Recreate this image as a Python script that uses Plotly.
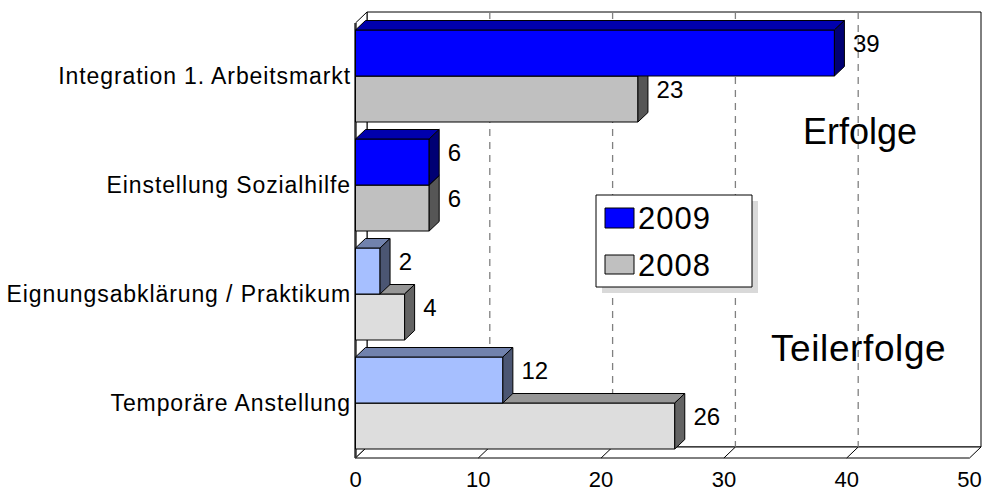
import plotly.graph_objects as go

# ---------------- data ----------------
categories = ["Integration 1. Arbeitsmarkt", "Einstellung Sozialhilfe",
              "Eignungsabklärung / Praktikum", "Temporäre Anstellung"]
values_2009 = [39, 6, 2, 12]
values_2008 = [23, 6, 4, 26]
colors_2009 = ["#0000FF", "#0000FF", "#A6BFFF", "#A6BFFF"]
colors_2008 = ["#C0C0C0", "#C0C0C0", "#DDDDDD", "#DDDDDD"]
x_tick_values = [0, 10, 20, 30, 40, 50]
series_names = ["2009", "2008"]
group_labels = ["Erfolge", "Teilerfolge"]

# ---------------- geometry (styling) ----------------
W, H = 986, 492
PL, PR, PT, PB = 352, 986, 0, 462    # plot area in window pixels
X0PX, PX_PER_V = 355.5, 12.28        # pixel of value 0, pixels per value unit
K0PX, PX_PER_K = 76.0, 109.0         # pixel of first category centre, pixels per category
X_MAX = x_tick_values[-1]

BAR_H = 46 / PX_PER_K
DXB, DYB = 10 / PX_PER_V, 9.5 / PX_PER_K      # bar depth
DXW, DYW = 11.5 / PX_PER_V, 11 / PX_PER_K     # wall depth
K_TOP = (23 - K0PX) / PX_PER_K
K_FLOOR = (458 - K0PX) / PX_PER_K

x_range = [(PL - X0PX) / PX_PER_V, (PR - X0PX) / PX_PER_V]
y_range = [(PB - K0PX) / PX_PER_K, (PT - K0PX) / PX_PER_K]

FONT = "Liberation Sans, Arial, sans-serif"


def spaced(t, ls):
    return '<span style="letter-spacing:%spx">%s</span>' % (ls, t)


def shade(hexcol, f):
    h = hexcol.lstrip("#")
    r, g, b = (int(h[i:i + 2], 16) for i in (0, 2, 4))
    return "rgb(%d,%d,%d)" % (round(r * f), round(g * f), round(b * f))


def px_x(p):
    return (p - PL) / (PR - PL)


def px_y(p):
    return 1 - (p - PT) / (PB - PT)


fig = go.Figure()


def poly(xs, ys, fill, line="black", width=1, z=0, dash=None, closed=True):
    if closed:
        xs = list(xs) + [xs[0]]
        ys = list(ys) + [ys[0]]
    fig.add_trace(go.Scatter(
        x=xs, y=ys, mode="lines",
        fill="toself" if fill else None, fillcolor=fill,
        line=dict(color=line, width=width, dash=dash),
        hoverinfo="skip", showlegend=False, zorder=z))


# ---------------- walls ----------------
kt_b, kf_b = K_TOP - DYW, K_FLOOR - DYW
poly([DXW, X_MAX + DXW, X_MAX + DXW, DXW], [kt_b, kt_b, kf_b, kf_b], "white", z=-2)
poly([0, DXW, DXW, 0], [K_TOP, kt_b, kf_b, K_FLOOR], "white", z=-2)
poly([0, X_MAX, X_MAX + DXW, DXW], [K_FLOOR, K_FLOOR, kf_b, kf_b], "white", z=-2)
poly([0, 0], [K_TOP, K_FLOOR], None, line="#333333", width=2.5, z=-1, closed=False)
for v in x_tick_values[1:-1]:
    poly([v + DXW, v + DXW], [kt_b, kf_b], None, line="#808080", width=1.3,
         z=-1, dash="7px,6px", closed=False)
    poly([v, v + DXW], [K_FLOOR, kf_b], None, line="black", width=1, z=-1, closed=False)

# ---------------- bars ----------------
series = [
    (series_names[1], values_2008, colors_2008, +0.5, 0),
    (series_names[0], values_2009, colors_2009, -0.5, 1),
]
for name, vals, cols, off, z in series:
    yc = [k + off * BAR_H for k in range(len(categories))]
    fig.add_trace(go.Bar(
        x=vals, y=yc, orientation="h", width=BAR_H, base=0, name=name,
        marker=dict(color=cols, line=dict(color="black", width=1)),
        showlegend=False, zorder=z, hovertext=categories))
    for v, c, ycen in zip(vals, cols, yc):
        yt, yb = ycen - BAR_H / 2, ycen + BAR_H / 2
        poly([0, v, v + DXB, DXB], [yt, yt, yt - DYB, yt - DYB], shade(c, 0.68), z=z)
        poly([v, v, v + DXB, v + DXB], [yt, yb, yb - DYB, yt - DYB], shade(c, 0.45), z=z)
    fig.add_trace(go.Scatter(
        x=[v + DXB + 0.7 for v in vals], y=[y - DYB * 0.75 for y in yc],
        mode="text", text=[str(v) for v in vals], textposition="middle right",
        textfont=dict(family=FONT, size=24, color="black"),
        hoverinfo="skip", showlegend=False, cliponaxis=False, zorder=3))

# ---------------- group labels ----------------
fig.add_annotation(x=(860 - X0PX) / PX_PER_V, y=(131 - K0PX) / PX_PER_K,
                   text=group_labels[0], showarrow=False,
                   font=dict(family=FONT, size=36, color="black"))
fig.add_annotation(x=(858 - X0PX) / PX_PER_V, y=(348 - K0PX) / PX_PER_K,
                   text=spaced(group_labels[1], 0.6), showarrow=False,
                   font=dict(family=FONT, size=37, color="black"))

# ---------------- legend (manual) ----------------
shapes = [
    dict(type="rect", xref="paper", yref="paper", x0=px_x(602), x1=px_x(758),
         y0=px_y(201), y1=px_y(293), fillcolor="#D9D9D9", line=dict(width=0)),
    dict(type="rect", xref="paper", yref="paper", x0=px_x(596), x1=px_x(752),
         y0=px_y(195), y1=px_y(287), fillcolor="white", line=dict(color="black", width=1)),
    dict(type="rect", xref="paper", yref="paper", x0=px_x(605), x1=px_x(634),
         y0=px_y(208), y1=px_y(228), fillcolor=colors_2009[0], line=dict(color="black", width=1)),
    dict(type="rect", xref="paper", yref="paper", x0=px_x(605), x1=px_x(634),
         y0=px_y(255), y1=px_y(274), fillcolor=colors_2008[0], line=dict(color="black", width=1)),
]
for name, ypx in ((series_names[0], 218), (series_names[1], 265)):
    fig.add_annotation(xref="paper", yref="paper", x=px_x(636), y=px_y(ypx),
                       xanchor="left", yanchor="middle", text=spaced(name, 1), showarrow=False,
                       font=dict(family=FONT, size=31, color="black"))

fig.update_layout(
    width=W, height=H,
    margin=dict(l=PL, r=W - PR, t=PT, b=H - PB, pad=0, autoexpand=False),
    paper_bgcolor="white", plot_bgcolor="white",
    shapes=shapes, barmode="overlay", showlegend=False,
    xaxis=dict(range=x_range, tickvals=x_tick_values,
               ticktext=[str(v) for v in x_tick_values],
               showgrid=False, zeroline=False, showline=False, ticks="",
               tickfont=dict(family=FONT, size=22, color="black"),
               ticklabelstandoff=2, fixedrange=True),
    yaxis=dict(range=y_range, tickvals=list(range(len(categories))),
               ticktext=[spaced(c, 0.9) for c in categories],
               showgrid=False, zeroline=False, showline=False, ticks="",
               tickfont=dict(family=FONT, size=23, color="black"), fixedrange=True),
)

fig.write_html(
    "out.html",
    config={"displayModeBar": False},
    post_script="document.body.style.margin='0';"
                "document.documentElement.style.overflow='hidden';",
)
